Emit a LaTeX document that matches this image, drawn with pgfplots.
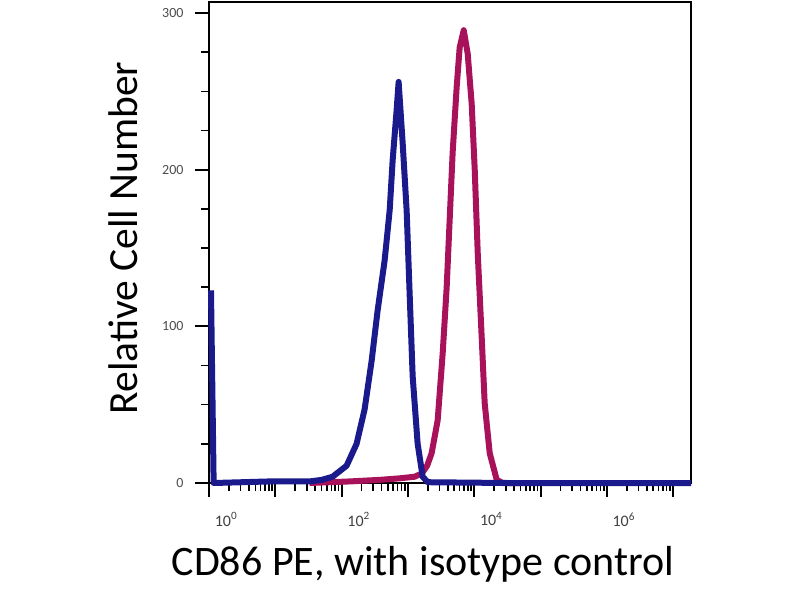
\documentclass[border=0pt]{standalone}
\usepackage{fontspec}
\setmainfont{Carlito}
\usepackage{pgfplots}
\pgfplotsset{compat=1.18}
\definecolor{isoblue}{HTML}{1A1A8C}
\definecolor{cdred}{HTML}{A8125A}
\pgfplotstableread{
d v
0.03 123
0.07 0
0.5 0.5
0.913 1
1.215 1
1.517 1
1.700 2
1.864 4
2.075 11
2.226 25
2.347 47
2.453 78
2.543 110
2.649 142
2.725 174
2.770 206
2.830 238
2.860 256
2.921 217
2.981 174
3.026 121
3.072 68
3.147 25
3.223 4
3.298 0.5
4.5 0
7.27 0
}\isotype
\pgfplotstableread{
d v
1.517 0
2.121 1
2.574 2
2.880 3
3.100 4
3.208 6
3.290 11
3.358 19
3.449 40
3.525 83
3.585 125
3.630 168
3.675 211
3.736 253
3.781 278
3.842 289
3.902 274
3.962 242
4.008 200
4.053 147
4.113 93
4.158 51
4.234 19
4.340 2
4.430 0
4.7 0
}\cdpe
\begin{document}
\begin{tikzpicture}[x=1pt,y=1pt]
\path[use as bounding box] (0,0) rectangle (800,600);
\begin{axis}[
  at={(209pt,117pt)}, anchor=south west, scale only axis,
  width=482pt, height=481pt,
  xmin=0, xmax=7.27, ymin=0, ymax=307,
  clip=false,
  axis line style={line width=1.8pt, black},
  xtick={0,1,2,3,4,5,6,7},
  xticklabels={10\textsuperscript{0},,10\textsuperscript{2},,10\textsuperscript{4},,10\textsuperscript{6},},
  minor xtick={0.301,0.477,0.602,0.699,0.778,0.845,0.903,0.954,
    1.301,1.477,1.602,1.699,1.778,1.845,1.903,1.954,
    2.301,2.477,2.602,2.699,2.778,2.845,2.903,2.954,
    3.301,3.477,3.602,3.699,3.778,3.845,3.903,3.954,
    4.301,4.477,4.602,4.699,4.778,4.845,4.903,4.954,
    5.301,5.477,5.602,5.699,5.778,5.845,5.903,5.954,
    6.301,6.477,6.602,6.699,6.778,6.845,6.903,6.954},
  ytick={0,100,200,300},
  minor ytick={25,50,75,125,150,175,225,250,275},
  xtick pos=bottom, ytick pos=left,
  tick align=outside,
  major tick length=14pt, minor tick length=8pt,
  every tick/.style={black, line width=2pt},
  minor tick style={line width=1.6pt},
  /pgf/number format/assume math mode=true,
  yticklabel style={font=\fontsize{14}{15}\selectfont, text=black!70, xshift=-8pt},
  xticklabel style={font=\fontsize{16}{17}\selectfont, text=black!75, xshift=17pt, yshift=-12pt},
]
\addplot[cdred, line width=6pt, line join=round] table[x=d, y=v] {\cdpe};
\addplot[isoblue, line width=6pt, line join=round] table[x=d, y=v] {\isotype};
\end{axis}
\node[anchor=base] at (423,25) {\fontsize{42}{48}\selectfont CD86 PE, with isotype control};
\node[rotate=90, anchor=base] at (137,362) {\fontsize{41.5}{48}\selectfont Relative Cell Number};
\end{tikzpicture}
\end{document}
